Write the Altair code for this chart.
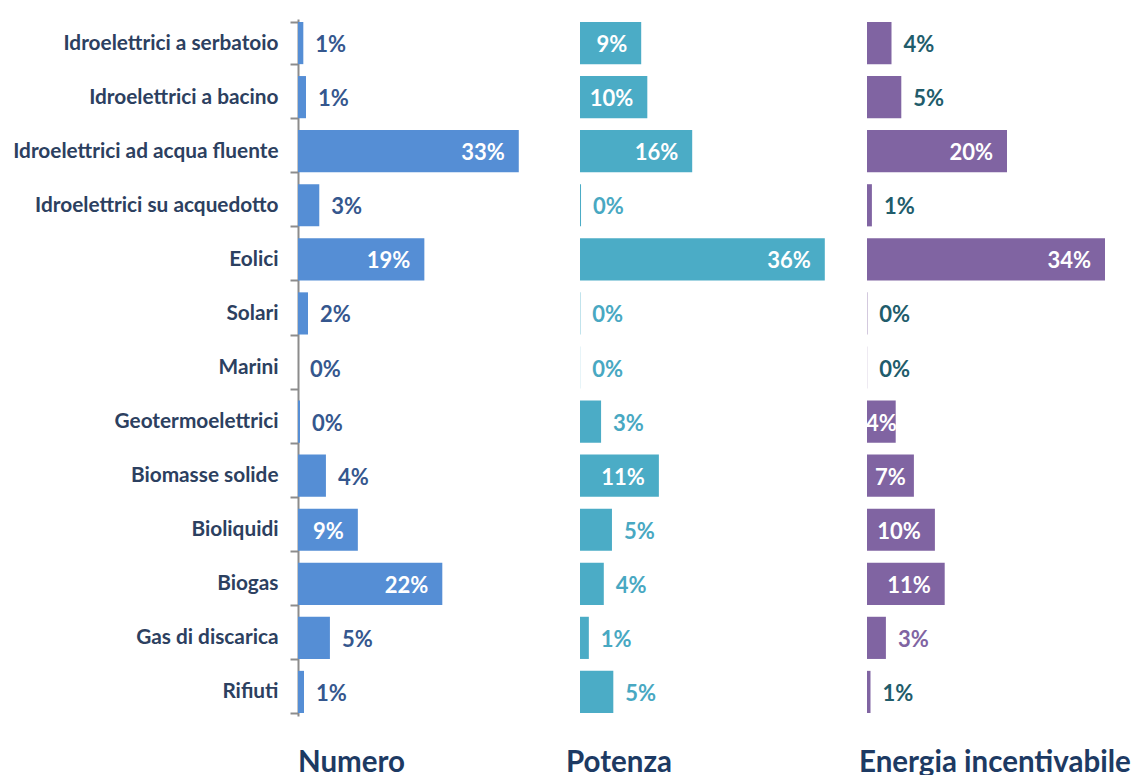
import altair as alt
import pandas as pd

categories = [
    "Idroelettrici a serbatoio",
    "Idroelettrici a bacino",
    "Idroelettrici ad acqua fluente",
    "Idroelettrici su acquedotto",
    "Eolici",
    "Solari",
    "Marini",
    "Geotermoelettrici",
    "Biomasse solide",
    "Bioliquidi",
    "Biogas",
    "Gas di discarica",
    "Rifiuti",
]

numero_values = [0.8, 1.2, 33.2, 3.2, 19.0, 1.5, 0.0, 0.3, 4.2, 9.0, 21.7, 4.8, 0.9]
numero_labels = ["1%", "1%", "33%", "3%", "19%", "2%", "0%", "0%", "4%", "9%", "22%", "5%", "1%"]
numero_inside = [False, False, True, False, True, False, False, False, False, True, True, False, False]

potenza_values = [9.0, 9.9, 16.5, 0.15, 36.0, 0.05, 0.02, 3.1, 11.6, 4.7, 3.5, 1.3, 4.9]
potenza_labels = ["9%", "10%", "16%", "0%", "36%", "0%", "0%", "3%", "11%", "5%", "4%", "1%", "5%"]
potenza_inside = [True, True, True, False, True, False, False, False, True, False, False, False, False]

energia_values = [3.5, 4.9, 20.0, 0.7, 34.0, 0.05, 0.02, 4.1, 6.7, 9.7, 11.1, 2.7, 0.5]
energia_labels = ["4%", "5%", "20%", "1%", "34%", "0%", "0%", "4%", "7%", "10%", "11%", "3%", "1%"]
energia_inside = [False, False, True, False, True, False, False, True, True, True, True, False, False]
energia_purple_labels = ["Gas di discarica"]

FONT = "Lato"
NAVY = "#1d3a63"
CAT_COLOR = "#2c4060"
H = 697


def panel(title, values, labels, inside, bar_color, out_color, width, px_per_pct,
          first=False, title_dx=0, special_color=None, special_cats=()):
    df = pd.DataFrame({
        "cat": categories,
        "v": values,
        "label": labels,
        "inside": inside,
    })
    df["lcolor"] = [special_color if (c in special_cats) else out_color for c in categories]
    xscale = alt.Scale(domain=[0, width / px_per_pct], nice=False, zero=True)
    if first:
        yaxis = alt.Axis(
            title=None, domainColor="#8c8c8c", domainWidth=2, tickColor="#8c8c8c",
            tickWidth=2, tickSize=8, tickBand="extent", labelFont=FONT,
            labelFontWeight="bold", labelFontSize=20.8, labelColor=CAT_COLOR,
            labelPadding=12, labelLimit=400,
        )
    else:
        yaxis = None
    y = alt.Y("cat:N", sort=categories, axis=yaxis,
              scale=alt.Scale(paddingInner=0.22, paddingOuter=0.055))
    base = alt.Chart(df)
    bars = base.mark_bar(color=bar_color).encode(
        x=alt.X("v:Q", scale=xscale, axis=None), y=y
    )
    out_text = base.transform_filter("!datum.inside").mark_text(
        align="left", baseline="middle", dx=12, dy=2, font=FONT, fontWeight="bold",
        fontSize=22,
    ).encode(
        x=alt.X("v:Q", scale=xscale, axis=None), y=y, text="label:N",
        color=alt.Color("lcolor:N", scale=None),
    )
    in_right = base.transform_filter("datum.inside && datum.v >= 8").mark_text(
        align="right", baseline="middle", dx=-14, dy=2, font=FONT, fontWeight="bold",
        fontSize=22, color="white",
    ).encode(x=alt.X("v:Q", scale=xscale, axis=None), y=y, text="label:N")
    in_center = base.transform_filter("datum.inside && datum.v < 8").transform_calculate(
        half="datum.v / 2"
    ).mark_text(
        align="center", baseline="middle", dy=2, font=FONT, fontWeight="bold",
        fontSize=22, color="white",
    ).encode(x=alt.X("half:Q", scale=xscale, axis=None), y=y, text="label:N")
    return alt.layer(bars, out_text, in_right, in_center).properties(
        width=width, height=H,
        title=alt.TitleParams(
            title, orient="bottom", anchor="start", frame="group", font=FONT,
            fontWeight="bold", fontSize=29.5, color=NAVY, offset=33, dx=title_dx,
        ),
    )


p1 = panel("Numero", numero_values, numero_labels, numero_inside, "#558ed5", "#35578e",
           258, 6.65, first=True)
p2 = panel("Potenza", potenza_values, potenza_labels, potenza_inside, "#4bacc6", "#48a8c2",
           269, 6.8, title_dx=-14)
p3 = panel("Energia incentivabile", energia_values, energia_labels, energia_inside, "#8064a2",
           "#215c6b", 260, 7.0, title_dx=-8, special_color="#8064a2",
           special_cats=energia_purple_labels)

chart = alt.hconcat(p1, p2, p3, spacing=10).configure_view(stroke=None).properties(
    padding={"left": 4, "top": 0, "right": 0, "bottom": 0}
)

chart.save("out.html", embed_options={"renderer": "svg", "actions": False})
